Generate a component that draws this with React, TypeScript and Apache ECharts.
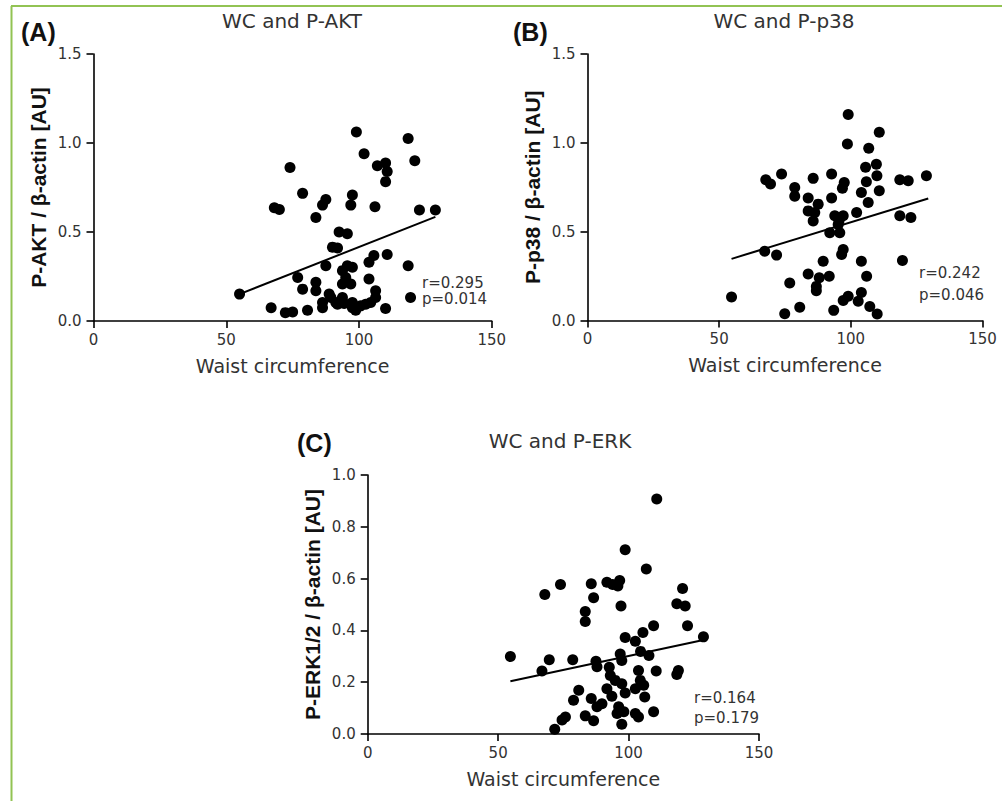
import React, { useEffect, useRef } from "react";
import * as echarts from "echarts";

// ---- Data ----
const panelLetters = ["(A)", "(B)", "(C)"];
const panelTitles = ["WC and P-AKT", "WC and P-p38", "WC and P-ERK"];
const xName = "Waist circumference";
const yNames = ["P-AKT / β-actin [AU]", "P-p38 / β-actin [AU]", "P-ERK1/2 / β-actin [AU]"];
const statTexts = [
  ["r=0.295", "p=0.014"],
  ["r=0.242", "p=0.046"],
  ["r=0.164", "p=0.179"],
];

const aktPoints: [number, number][] = [
  [99, 1.062], [118.5, 1.025], [101.9, 0.94], [121, 0.9], [74, 0.862], [106.9, 0.872],
  [110, 0.887], [110.6, 0.84], [110, 0.783], [78.75, 0.717], [97.5, 0.708], [87.5, 0.683],
  [86.25, 0.651], [96.9, 0.651], [68.1, 0.636], [70, 0.626], [106, 0.642], [83.75, 0.581],
  [122.75, 0.623], [128.75, 0.623], [92.5, 0.5], [95.6, 0.49], [90, 0.415], [91.9, 0.41],
  [110.6, 0.374], [105.6, 0.368], [103.75, 0.33], [87.5, 0.311], [95.6, 0.311], [97.5, 0.302],
  [93.75, 0.283], [118.5, 0.311], [55, 0.151], [76.9, 0.245], [78.75, 0.179], [83.75, 0.217],
  [83.75, 0.17], [95, 0.245], [96.9, 0.208], [103.75, 0.236], [93.75, 0.208], [88.75, 0.151],
  [106.25, 0.17], [106.25, 0.132], [104.4, 0.104], [102.5, 0.094], [119.4, 0.132], [66.9, 0.075],
  [72.25, 0.047], [75, 0.051], [80.6, 0.06], [86.25, 0.075], [86.25, 0.104], [91.9, 0.094],
  [91.25, 0.104], [94.4, 0.098], [97.5, 0.075], [98.75, 0.06], [110, 0.07], [89.4, 0.132],
  [93.75, 0.132], [97.5, 0.104], [100.6, 0.085],
];

const p38Points: [number, number][] = [
  [99, 1.16], [110.8, 1.06], [98.7, 0.994], [106.8, 0.97], [109.7, 0.88], [105.6, 0.862],
  [109.9, 0.815], [73.7, 0.825], [67.7, 0.792], [69.5, 0.768], [85.7, 0.8], [92.7, 0.825],
  [97.5, 0.777], [96.8, 0.745], [105.9, 0.781], [104, 0.72], [110.8, 0.73], [118.6, 0.792],
  [121.8, 0.787], [128.7, 0.815], [78.7, 0.749], [78.7, 0.7], [83.8, 0.69], [92.7, 0.69],
  [87.6, 0.655], [106.6, 0.664], [83.8, 0.617], [86.3, 0.608], [93.9, 0.589], [97.1, 0.589],
  [102.2, 0.608], [85.7, 0.56], [95.2, 0.54], [118.6, 0.589], [122.8, 0.58], [92, 0.494],
  [95.8, 0.494], [97.1, 0.4], [96.5, 0.372], [67.3, 0.39], [71.8, 0.368], [89.5, 0.334],
  [104, 0.334], [119.6, 0.338], [83.8, 0.262], [88, 0.24], [91.8, 0.249], [106, 0.249],
  [76.8, 0.211], [86.9, 0.192], [86.9, 0.168], [54.7, 0.132], [104, 0.158], [99, 0.136],
  [97.1, 0.113], [102.8, 0.108], [80.6, 0.075], [93.5, 0.057], [107.2, 0.079], [74.9, 0.038],
  [110, 0.036], [95.5, 0.56],
];

const erkPoints: [number, number][] = [
  [110.8, 0.907], [98.7, 0.711], [106.8, 0.637], [73.9, 0.577], [67.9, 0.539], [85.7, 0.58],
  [91.7, 0.586], [93.9, 0.577], [96.6, 0.593], [95.9, 0.571], [86.6, 0.526], [97.1, 0.494],
  [120.7, 0.562], [118.5, 0.503], [121.7, 0.494], [83.4, 0.473], [83.4, 0.434], [122.6, 0.418],
  [109.6, 0.418], [105.5, 0.392], [98.7, 0.373], [102.6, 0.358], [128.7, 0.375], [54.7, 0.299],
  [69.6, 0.287], [78.6, 0.287], [87.5, 0.281], [96.8, 0.309], [97.4, 0.284], [104.6, 0.319],
  [107.8, 0.303], [66.8, 0.243], [87.9, 0.26], [92.6, 0.258], [93, 0.226], [103.8, 0.245],
  [110.6, 0.243], [119.1, 0.245], [118.5, 0.23], [94.9, 0.207], [97.4, 0.194], [104.5, 0.207],
  [105.8, 0.188], [102.6, 0.175], [80.9, 0.169], [91.7, 0.175], [98.7, 0.158], [93.6, 0.146],
  [106.2, 0.143], [78.9, 0.13], [85.7, 0.137], [87.9, 0.105], [89.8, 0.117], [96.2, 0.105],
  [98.2, 0.086], [95.6, 0.079], [102.6, 0.079], [103.8, 0.066], [109.6, 0.086], [75.8, 0.066],
  [74.5, 0.054], [83.4, 0.07], [86.6, 0.051], [97.4, 0.038], [71.7, 0.018],
];

const aktFit: [number, number][] = [[55, 0.151], [128.75, 0.585]];
const p38Fit: [number, number][] = [[54.7, 0.347], [129.4, 0.687]];
const erkFit: [number, number][] = [[54.7, 0.204], [128.7, 0.363]];

const xRange = { min: 0, max: 150, interval: 50 };
const yRanges = [
  { min: 0, max: 1.5, interval: 0.5 },
  { min: 0, max: 1.5, interval: 0.5 },
  { min: 0, max: 1.0, interval: 0.2 },
];

// ---- Layout / style ----
const grids = [
  { left: 93.5, top: 54, width: 398.3, height: 267 },
  { left: 587.5, top: 54, width: 395, height: 266.5 },
  { left: 367.7, top: 475, width: 391.3, height: 259 },
];
const REG = "DejaVu Sans";
const ARIAL = "Liberation Sans, Arial, sans-serif";
const TXT = "#333";

export default function App() {
  const ref = useRef<HTMLDivElement>(null);

  useEffect(() => {
    if (!ref.current) return;
    const chart = echarts.init(ref.current, undefined, { renderer: "svg" });

    const pointSets = [aktPoints, p38Points, erkPoints];
    const fits = [aktFit, p38Fit, erkFit];

    const xAxes = grids.map((_, i) => ({
      gridIndex: i,
      type: "value",
      ...xRange,
      axisLine: { show: true, onZero: false, lineStyle: { color: "#000", width: 1.6 } },
      axisTick: { show: true, length: 7, lineStyle: { color: "#000", width: 1.6 } },
      axisLabel: { margin: 11, fontSize: 15, color: TXT, fontFamily: REG },
      splitLine: { show: false },
      name: xName,
      nameLocation: "middle",
      nameGap: 35,
      nameTextStyle: { fontSize: 19, color: TXT, fontFamily: REG },
    }));

    const yAxes = grids.map((_, i) => ({
      gridIndex: i,
      type: "value",
      ...yRanges[i],
      axisLine: { show: true, onZero: false, lineStyle: { color: "#000", width: 1.6 } },
      axisTick: { show: true, length: 7, lineStyle: { color: "#000", width: 1.6 } },
      axisLabel: {
        margin: 12,
        fontSize: 15,
        color: TXT,
        fontFamily: REG,
        formatter: (v: number) => v.toFixed(1),
      },
      splitLine: { show: false },
      name: yNames[i],
      nameLocation: "middle",
      nameRotate: 90,
      nameGap: 45,
      nameTextStyle: { fontSize: 21, fontWeight: "bold", color: "#111", fontFamily: ARIAL },
    }));

    const series: any[] = [];
    pointSets.forEach((pts, i) => {
      series.push({
        type: "scatter",
        xAxisIndex: i,
        yAxisIndex: i,
        data: pts,
        symbol: "circle",
        symbolSize: 11,
        itemStyle: { color: "#000", opacity: 1 },
        z: 3,
      });
      series.push({
        type: "line",
        xAxisIndex: i,
        yAxisIndex: i,
        data: fits[i],
        showSymbol: false,
        symbol: "none",
        lineStyle: { color: "#000", width: 2 },
        z: 4,
      });
    });

    const titlePos = [
      { x: 292, y: 21 },
      { x: 784, y: 21 },
      { x: 560, y: 441 },
    ];
    const letterPos = [
      { x: 21, y: 32 },
      { x: 513, y: 32 },
      { x: 297, y: 443 },
    ];
    const statPos = [
      [{ x: 422, y: 283 }, { x: 422, y: 299 }],
      [{ x: 919, y: 273 }, { x: 919, y: 295 }],
      [{ x: 694, y: 698 }, { x: 694, y: 718 }],
    ];

    const graphics: any[] = [
      {
        type: "line",
        shape: { x1: 11.5, y1: 6, x2: 11.5, y2: 801 },
        style: { stroke: "#92c353", lineWidth: 2 },
      },
      {
        type: "line",
        shape: { x1: 11, y1: 6, x2: 1002, y2: 6 },
        style: { stroke: "#92c353", lineWidth: 2 },
      },
    ];
    panelTitles.forEach((t, i) => {
      graphics.push({
        type: "text",
        x: titlePos[i].x,
        y: titlePos[i].y,
        style: {
          text: t,
          fill: TXT,
          font: `20px ${REG}`,
          textAlign: "center",
          textVerticalAlign: "middle",
        },
      });
      graphics.push({
        type: "text",
        x: letterPos[i].x,
        y: letterPos[i].y,
        style: {
          text: panelLetters[i],
          fill: "#111",
          font: `bold 25px ${ARIAL}`,
          textAlign: "left",
          textVerticalAlign: "middle",
        },
      });
      statTexts[i].forEach((s, j) => {
        graphics.push({
          type: "text",
          x: statPos[i][j].x,
          y: statPos[i][j].y,
          style: {
            text: s,
            fill: TXT,
            font: `15px ${REG}`,
            textAlign: "left",
            textVerticalAlign: "middle",
          },
        });
      });
    });

    chart.setOption({
      animation: false,
      backgroundColor: "#fff",
      grid: grids,
      xAxis: xAxes,
      yAxis: yAxes,
      series,
      graphic: graphics,
    });

    return () => chart.dispose();
  }, []);

  return (
    <div
      ref={ref}
      style={{ position: "fixed", left: 0, top: 0, width: 1002, height: 801, background: "#fff" }}
    />
  );
}
